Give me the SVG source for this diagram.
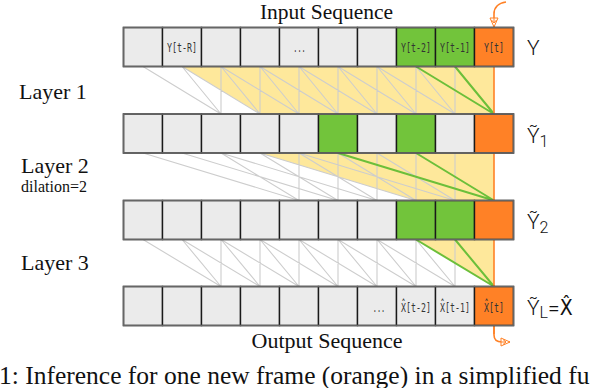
<svg xmlns="http://www.w3.org/2000/svg" width="594" height="388" viewBox="0 0 594 388">
<defs>
<style>
.c{fill:#ebebeb;stroke:#1a1a1a;stroke-width:1.4}
.g{fill:#72c43b;stroke:#1a1a1a;stroke-width:1.4}
.o{fill:#ff8126;stroke:#1a1a1a;stroke-width:1.4}
.frame{fill:none;stroke:#666;stroke-width:1.6}
.yl{fill:#fee89b;stroke:none}
.gl{fill:none;stroke:#cdcdcd;stroke-width:1.1}
.gr{fill:none;stroke:#6cbf3a;stroke-width:2}
.or{fill:none;stroke:#ff8126;stroke-width:1.6}
.serif{font-family:"Liberation Serif","Times New Roman",serif;fill:#111}
.mono{font-family:"DejaVu Sans Mono","Liberation Mono",monospace;font-size:12.5px;fill:#333;text-anchor:middle}
.lab{font-family:Roboto,"DejaVu Sans Condensed",sans-serif;font-weight:300;font-size:21px;fill:#111}
</style>
<marker id="arr" markerUnits="userSpaceOnUse" markerWidth="10" markerHeight="10" viewBox="0 0 10 10" refX="10" refY="5" orient="auto">
<path d="M1,1 L10,5 L1,9 Z M1,5 L6,5 M3,2.5 L6,5 L3,7.5" fill="#fff" stroke="#ff8126" stroke-width="1"/>
</marker>
</defs>
<rect width="594" height="388" fill="#fff"/>

<g id="receptive-field">
<polygon class="yl" points="182,66.5 494,66.5 494,114 260,114"/>
<polygon class="yl" points="260,153 494,153 494,200.5 416,200.5"/>
<polygon class="yl" points="416,239.5 494,239.5 494,286.5"/>
</g>

<g id="connectors">
<path class="gl" d="M143,66.5L221,114M182,66.5L221,114M221,66.5L221,114 M182,66.5L260,114M221,66.5L260,114M260,66.5L260,114 M221,66.5L299,114M260,66.5L299,114M299,66.5L299,114 M260,66.5L338,114M299,66.5L338,114M338,66.5L338,114 M299,66.5L377,114M338,66.5L377,114M377,66.5L377,114 M338,66.5L416,114M377,66.5L416,114M416,66.5L416,114 M377,66.5L455,114M416,66.5L455,114M455,66.5L455,114"/>
<path class="gl" d="M143,153L299,200.5M221,153L299,200.5M299,153L299,200.5 M182,153L338,200.5M260,153L338,200.5M338,153L338,200.5 M221,153L377,200.5M299,153L377,200.5M377,153L377,200.5 M260,153L416,200.5M338,153L416,200.5M416,153L416,200.5 M299,153L455,200.5M377,153L455,200.5M455,153L455,200.5"/>
<path class="gl" d="M143,239.5L221,286.5M182,239.5L221,286.5M221,239.5L221,286.5 M182,239.5L260,286.5M221,239.5L260,286.5M260,239.5L260,286.5 M221,239.5L299,286.5M260,239.5L299,286.5M299,239.5L299,286.5 M260,239.5L338,286.5M299,239.5L338,286.5M338,239.5L338,286.5 M299,239.5L377,286.5M338,239.5L377,286.5M377,239.5L377,286.5 M338,239.5L416,286.5M377,239.5L416,286.5M416,239.5L416,286.5 M377,239.5L455,286.5M416,239.5L455,286.5M455,239.5L455,286.5"/>
<path class="gr" d="M416,66.5L494,114M455,66.5L494,114 M338,153L494,200.5M416,153L494,200.5 M416,239.5L494,286.5M455,239.5L494,286.5"/>
<path class="or" d="M494,27.5L494,334"/>
<path class="or" d="M506,2 C498,3 494,8 494,14 L494,27" marker-end="url(#arr)"/>
<path class="or" d="M494,325.5 L494,335 C494,340 497,342 502,342 L510,342" marker-end="url(#arr)"/>
</g>

<g id="row-input">
<g id="y0"><rect class="c" x="123.5" y="27.5" width="39" height="39"/></g>
<g id="y1"><rect class="c" x="162.5" y="27.5" width="39" height="39"/><text class="mono" transform="translate(182,52) scale(0.67,1)">Y[t-R]</text></g>
<g id="y2"><rect class="c" x="201.5" y="27.5" width="39" height="39"/></g>
<g id="y3"><rect class="c" x="240.5" y="27.5" width="39" height="39"/></g>
<g id="y4"><rect class="c" x="279.5" y="27.5" width="39" height="39"/><text class="mono" transform="translate(299.5,52) scale(0.55,1)">...</text></g>
<g id="y5"><rect class="c" x="318.5" y="27.5" width="39" height="39"/></g>
<g id="y6"><rect class="c" x="357.5" y="27.5" width="39" height="39"/></g>
<g id="y7"><rect class="g" x="396.5" y="27.5" width="39" height="39"/><text class="mono" transform="translate(416,52) scale(0.66,1)">Y[t-2]</text></g>
<g id="y8"><rect class="g" x="435.5" y="27.5" width="39" height="39"/><text class="mono" transform="translate(455,52) scale(0.66,1)">Y[t-1]</text></g>
<g id="y9"><rect class="o" x="474.5" y="27.5" width="39" height="39"/><text class="mono" transform="translate(494,52) scale(0.66,1)">Y[t]</text></g>
<rect class="frame" x="123.5" y="27.5" width="390" height="39"/>
</g>

<g id="row-layer1">
<g id="a0"><rect class="c" x="123.5" y="114" width="39" height="39"/></g>
<g id="a1"><rect class="c" x="162.5" y="114" width="39" height="39"/></g>
<g id="a2"><rect class="c" x="201.5" y="114" width="39" height="39"/></g>
<g id="a3"><rect class="c" x="240.5" y="114" width="39" height="39"/></g>
<g id="a4"><rect class="c" x="279.5" y="114" width="39" height="39"/></g>
<g id="a5"><rect class="g" x="318.5" y="114" width="39" height="39"/></g>
<g id="a6"><rect class="c" x="357.5" y="114" width="39" height="39"/></g>
<g id="a7"><rect class="g" x="396.5" y="114" width="39" height="39"/></g>
<g id="a8"><rect class="c" x="435.5" y="114" width="39" height="39"/></g>
<g id="a9"><rect class="o" x="474.5" y="114" width="39" height="39"/></g>
<rect class="frame" x="123.5" y="114" width="390" height="39"/>
</g>

<g id="row-layer2">
<g id="b0"><rect class="c" x="123.5" y="200.5" width="39" height="39"/></g>
<g id="b1"><rect class="c" x="162.5" y="200.5" width="39" height="39"/></g>
<g id="b2"><rect class="c" x="201.5" y="200.5" width="39" height="39"/></g>
<g id="b3"><rect class="c" x="240.5" y="200.5" width="39" height="39"/></g>
<g id="b4"><rect class="c" x="279.5" y="200.5" width="39" height="39"/></g>
<g id="b5"><rect class="c" x="318.5" y="200.5" width="39" height="39"/></g>
<g id="b6"><rect class="c" x="357.5" y="200.5" width="39" height="39"/></g>
<g id="b7"><rect class="g" x="396.5" y="200.5" width="39" height="39"/></g>
<g id="b8"><rect class="g" x="435.5" y="200.5" width="39" height="39"/></g>
<g id="b9"><rect class="o" x="474.5" y="200.5" width="39" height="39"/></g>
<rect class="frame" x="123.5" y="200.5" width="390" height="39"/>
</g>

<g id="row-output">
<g id="x0"><rect class="c" x="123.5" y="286.5" width="39" height="39"/></g>
<g id="x1"><rect class="c" x="162.5" y="286.5" width="39" height="39"/></g>
<g id="x2"><rect class="c" x="201.5" y="286.5" width="39" height="39"/></g>
<g id="x3"><rect class="c" x="240.5" y="286.5" width="39" height="39"/></g>
<g id="x4"><rect class="c" x="279.5" y="286.5" width="39" height="39"/></g>
<g id="x5"><rect class="c" x="318.5" y="286.5" width="39" height="39"/></g>
<g id="x6"><rect class="c" x="357.5" y="286.5" width="39" height="39"/><text class="mono" transform="translate(379,311.5) scale(0.55,1)">...</text></g>
<g id="x7"><rect class="c" x="396.5" y="286.5" width="39" height="39"/><text class="mono" transform="translate(416,311.5) scale(0.66,1)">X̂[t-2]</text></g>
<g id="x8"><rect class="c" x="435.5" y="286.5" width="39" height="39"/><text class="mono" transform="translate(455,311.5) scale(0.66,1)">X̂[t-1]</text></g>
<g id="x9"><rect class="o" x="474.5" y="286.5" width="39" height="39"/><text class="mono" transform="translate(494,311.5) scale(0.66,1)">X̂[t]</text></g>
<rect class="frame" x="123.5" y="286.5" width="390" height="39"/>
</g>

<g id="labels">
<text class="serif" x="326.5" y="19" font-size="21.5" text-anchor="middle">Input Sequence</text>
<text class="serif" x="327" y="347.5" font-size="22" text-anchor="middle">Output Sequence</text>
<text class="serif" x="19" y="99" font-size="22">Layer 1</text>
<text class="serif" x="21" y="173" font-size="22">Layer 2</text>
<text class="serif" x="21" y="192" font-size="16">dilation=2</text>
<text class="serif" x="21" y="270" font-size="22">Layer 3</text>
<text class="lab" x="527" y="55">Y</text>
<text class="lab" x="527" y="143">Ỹ<tspan font-size="16" dy="4">1</tspan></text>
<text class="lab" x="527" y="229">Ỹ<tspan font-size="16" dy="4">2</tspan></text>
<text class="lab" x="527" y="315">Ỹ<tspan font-size="16" dy="3">L</tspan><tspan dy="-3">=X̂</tspan></text>
<text class="serif" x="-1" y="383.5" font-size="25.5">1: Inference for one new frame (orange) in a simplified fu</text>
</g>
</svg>
